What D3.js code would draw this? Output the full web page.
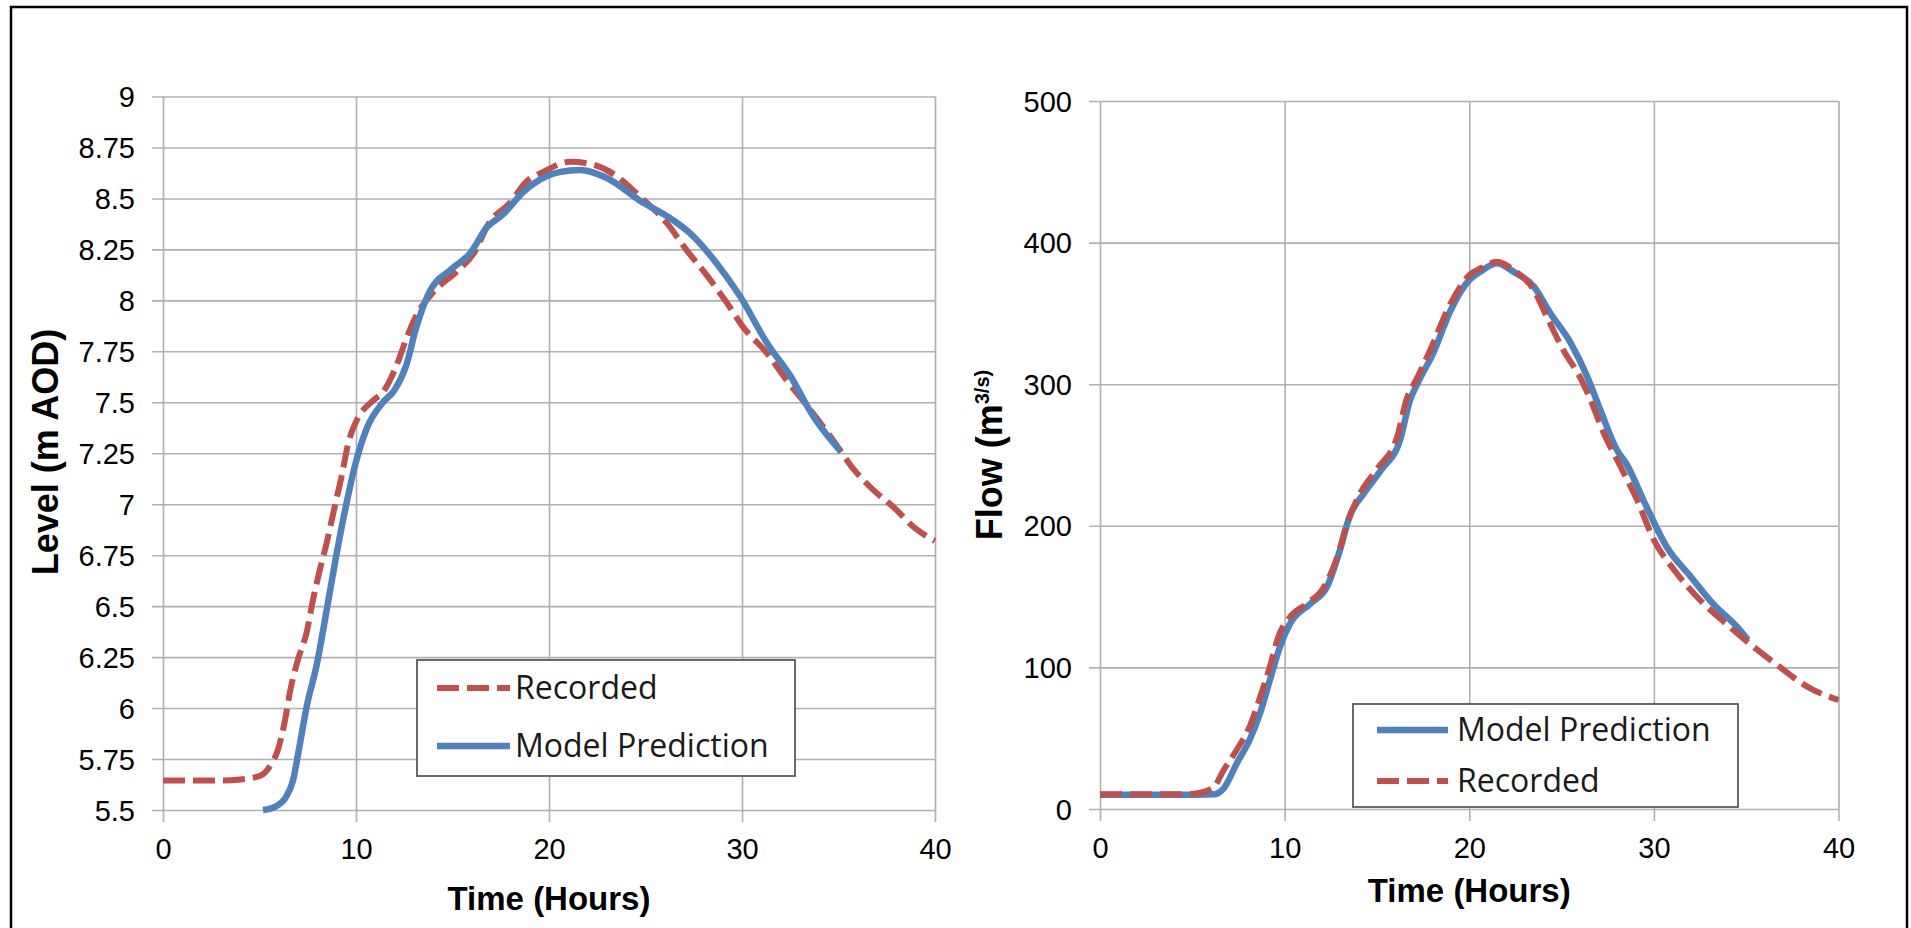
<!DOCTYPE html>
<html>
<head>
<meta charset="utf-8">
<script src="https://cdn.jsdelivr.net/npm/d3@7"></script>
<style>
  body { margin: 0; background: #fff; }
  svg { display: block; }
</style>
</head>
<body>
<svg width="1911" height="928"></svg>
<script>
// hours axis shared by both panels
var hourTicks = [0, 10, 20, 30, 40];

// left panel: water level (m AOD)
var levelTicks = [5.5, 5.75, 6, 6.25, 6.5, 6.75, 7, 7.25, 7.5, 7.75, 8, 8.25, 8.5, 8.75, 9];
var levelRecorded = [
  [0, 5.645], [1, 5.645], [2, 5.645], [3, 5.645], [4, 5.65], [5.03, 5.667], [5.54, 5.715],
  [5.97, 5.80], [6.32, 5.94], [6.58, 6.08], [7.0, 6.24], [7.44, 6.37], [7.77, 6.53],
  [8.13, 6.68], [8.48, 6.81], [8.9, 6.99], [9.26, 7.14], [9.6, 7.30], [10.03, 7.41],
  [10.9, 7.51], [11.4, 7.55], [12.1, 7.68], [12.6, 7.81], [13.1, 7.92], [14.0, 8.04],
  [15.2, 8.14], [16.1, 8.23], [16.9, 8.38], [18.0, 8.48], [18.8, 8.58], [19.7, 8.63],
  [21.1, 8.68], [22.1, 8.67], [23.5, 8.61], [24.7, 8.51], [26.1, 8.38], [27.1, 8.25],
  [28.2, 8.12], [29.2, 7.99], [30.05, 7.87], [31.3, 7.74], [32.3, 7.61], [33.4, 7.48],
  [34.6, 7.33], [35.8, 7.17], [36.8, 7.07], [37.8, 6.99], [39.0, 6.88], [40, 6.82]
];
var levelModel = [
  [5.18, 5.5], [5.89, 5.52], [6.41, 5.57], [6.75, 5.65], [7.01, 5.78], [7.45, 6.01],
  [7.96, 6.21], [8.48, 6.48], [9.0, 6.76], [9.52, 7.01], [9.95, 7.19], [10.55, 7.37],
  [11.4, 7.50], [12.0, 7.56], [12.6, 7.68], [13.1, 7.86], [13.8, 8.04], [14.9, 8.15],
  [15.9, 8.23], [16.8, 8.36], [17.6, 8.42], [18.65, 8.53], [19.9, 8.61], [20.6, 8.63],
  [21.6, 8.64], [23.0, 8.60], [24.7, 8.49], [26.4, 8.395], [27.3, 8.33], [28.7, 8.18],
  [29.9, 8.02], [31.3, 7.79], [32.5, 7.63], [33.7, 7.43], [35.1, 7.26]
];

// right panel: flow (m3/s)
var flowTicks = [0, 100, 200, 300, 400, 500];
var flowRecorded = [
  [0, 10.4], [2, 10.4], [4, 10.4], [4.9, 10.6], [6.1, 14.6], [6.7, 27.5], [7.4, 41.7],
  [8.1, 58], [8.67, 79], [9.2, 100.5], [9.66, 121.7], [10.3, 135.8], [11.2, 145],
  [12.1, 156], [12.8, 176], [13.4, 202], [14.1, 223], [15.0, 240], [16.1, 263],
  [16.6, 289], [17.2, 305], [18.05, 329], [18.8, 352], [19.4, 366.5], [20.0, 377],
  [20.6, 381.8], [21.5, 386.5], [22.4, 380.6], [23.5, 366.5], [24.2, 347.7], [25.1, 324],
  [26.0, 305], [26.5, 291], [27.3, 265], [28.2, 241.7], [29.1, 218], [30.0, 190],
  [31.1, 168.8], [32.5, 147.6], [33.9, 131], [35.4, 114.6], [36.8, 100.5], [38.3, 86.4],
  [40, 77]
];
var flowModel = [
  [0, 10], [4, 10], [6.2, 10.5], [6.7, 14.6], [7.4, 32], [8.1, 48.7], [8.67, 67.6],
  [9.2, 91], [9.75, 114.6], [10.3, 131], [11.4, 145], [12.3, 157], [13.0, 183],
  [13.5, 206], [14.3, 223], [15.2, 239], [16.25, 260.6], [16.8, 289], [17.2, 300.6],
  [18.05, 322], [19.0, 352.4], [20.0, 373.6], [20.6, 379.4], [21.5, 385.4], [22.4, 379.4],
  [23.5, 368.9], [24.4, 350], [25.5, 329], [26.4, 305], [27.1, 281.8], [28.0, 253.5],
  [28.5, 244], [29.6, 213.5], [30.7, 185], [32.0, 164], [33.2, 145], [34.5, 128.7],
  [35.1, 119.4]
];

var RED = "#c0504d", BLUE = "#4f81bd";
var recordedStyle = {name: "Recorded", color: RED, width: 6, dash: "22,8"};
var modelStyle = {name: "Model Prediction", color: BLUE, width: 6.5, dash: null};

var svg = d3.select("svg");

// outer frame (runs off the bottom of the picture)
svg.append("rect")
    .attr("x", 11).attr("y", 7)
    .attr("width", 1896).attr("height", 960)
    .attr("fill", "none")
    .attr("stroke", "#000")
    .attr("stroke-width", 2.5);

function drawPanel(p) {
  var x = d3.scaleLinear().domain([0, 40]).range([p.left, p.right]);
  var y = d3.scaleLinear().domain(p.yDomain).range([p.bottom, p.top]);

  var g = svg.append("g");

  // horizontal grid + left ticks
  g.append("g")
      .attr("transform", "translate(" + p.left + ",0)")
      .call(d3.axisLeft(y).tickValues(p.yTicks).tickSize(-(p.right - p.left)).tickSizeOuter(0)
          .tickFormat(function(d) { return String(d); }).tickPadding(0))
      .call(function(a) {
        a.select(".domain").remove();
        a.selectAll(".tick line").attr("x1", -11).attr("stroke", "#b0b0b0").attr("stroke-width", 1.6);
        a.selectAll(".tick text")
            .attr("x", -28)
            .attr("dy", "0.35em")
            .style("font-family", "'Liberation Sans', Arial, sans-serif")
            .style("font-size", "29px")
            .attr("fill", "#000");
      });

  // vertical grid + bottom ticks
  g.append("g")
      .attr("transform", "translate(0," + p.bottom + ")")
      .call(d3.axisBottom(x).tickValues(hourTicks).tickSize(-(p.bottom - p.top)).tickSizeOuter(0))
      .call(function(a) {
        a.select(".domain").remove();
        a.selectAll(".tick line").attr("y1", 12).attr("stroke", "#b0b0b0").attr("stroke-width", 1.6);
        a.selectAll(".tick text")
            .attr("y", 49)
            .attr("dy", 0)
            .style("font-family", "'Liberation Sans', Arial, sans-serif")
            .style("font-size", "29px")
            .attr("fill", "#000");
      });

  var line = d3.line()
      .x(function(d) { return x(d[0]); })
      .y(function(d) { return y(d[1]); })
      .curve(d3.curveMonotoneX);

  p.series.forEach(function(s) {
    g.append("path")
        .datum(s.data)
        .attr("fill", "none")
        .attr("stroke", s.style.color)
        .attr("stroke-width", s.style.width)
        .attr("stroke-dasharray", s.style.dash)
        .attr("stroke-linejoin", "round")
        .attr("d", line);
  });

  // axis titles
  g.append("text")
      .attr("x", (p.left + p.right) / 2)
      .attr("y", p.xTitleY)
      .attr("text-anchor", "middle")
      .style("font-family", "'Liberation Sans', Arial, sans-serif")
      .style("font-size", "33px")
      .style("font-weight", "bold")
      .text("Time (Hours)");

  var yt = g.append("text")
      .attr("transform", "translate(" + p.yTitleX + "," + p.yTitleMid + ") rotate(-90)")
      .attr("text-anchor", "middle")
      .style("font-family", "'Liberation Sans', Arial, sans-serif")
      .style("font-size", "36px")
      .style("font-weight", "bold");
  p.yTitle(yt);

  // legend
  var L = p.legend;
  var lg = g.append("g").attr("transform", "translate(" + L.x + "," + L.y + ")");
  lg.append("rect")
      .attr("width", L.w).attr("height", L.h)
      .attr("fill", "#fff")
      .attr("stroke", "#5a5a5a")
      .attr("stroke-width", 1.8);
  p.series.forEach(function(s, i) {
    var cy = L.first + i * L.step;
    lg.append("line")
        .attr("x1", L.sx).attr("x2", L.sx + L.sl)
        .attr("y1", cy).attr("y2", cy)
        .attr("stroke", s.style.color)
        .attr("stroke-width", s.style.width)
        .attr("stroke-dasharray", s.style.dash);
    lg.append("text")
        .attr("x", L.tx)
        .attr("y", cy + 11)
        .style("font-family", "'Open Sans', sans-serif")
        .style("font-size", "32px")
        .attr("fill", "#1a1a1a")
        .text(s.style.name);
  });
}

drawPanel({
  left: 163, right: 935, top: 96.5, bottom: 810,
  yDomain: [5.5, 9], yTicks: levelTicks,
  series: [{style: recordedStyle, data: levelRecorded}, {style: modelStyle, data: levelModel}],
  xTitleY: 910,
  yTitleX: 58, yTitleMid: 452,
  yTitle: function(t) { t.text("Level (m AOD)"); },
  legend: {x: 417, y: 660, w: 378, h: 116, first: 28, step: 58, sx: 20, sl: 73, tx: 98}
});

drawPanel({
  left: 1100, right: 1838.5, top: 101, bottom: 809,
  yDomain: [0, 500], yTicks: flowTicks,
  series: [{style: modelStyle, data: flowModel}, {style: recordedStyle, data: flowRecorded}],
  xTitleY: 902,
  yTitleX: 1002, yTitleMid: 455,
  yTitle: function(t) {
    t.append("tspan").text("Flow (m");
    t.append("tspan").attr("dy", -13).style("font-size", "20px").text("3/s)");
  },
  legend: {x: 1353, y: 704, w: 385, h: 103, first: 26, step: 51, sx: 24, sl: 71, tx: 104}
});
</script>
</body>
</html>
